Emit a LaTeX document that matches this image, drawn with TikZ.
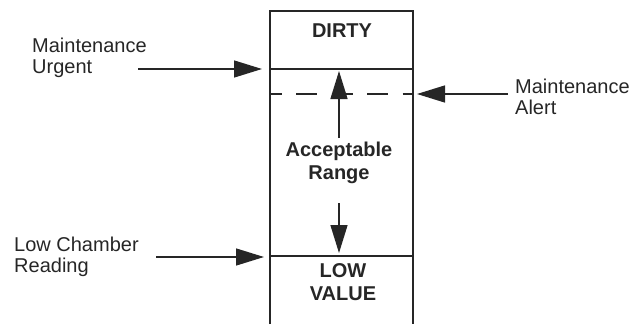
\documentclass[tikz,border=0pt]{standalone}
\usepackage{fontspec}
\setmainfont{Liberation Sans}
\usetikzlibrary{arrows.meta}
\begin{document}
\begin{tikzpicture}[x=1pt,y=-1pt,
  rule/.style={line width=1.4pt,draw=black!85},
  pointer/.style={line width=1.4pt,draw=black!85,-{Triangle[length=28pt,width=17pt]}},
  label/.style={font=\fontsize{20}{21.5}\selectfont,text=black!85,align=left,inner sep=0pt},
  zone/.style={font=\bfseries\fontsize{20}{22.5}\selectfont,text=black!85,align=center,inner sep=0pt}]
\useasboundingbox (0,0) rectangle (634,324);
% column frame, open at the bottom
\draw[rule] (270,324) -- (270,11) -- (413,11) -- (413,324);
\draw[rule] (270,69) -- (413,69);
\draw[rule] (270,256) -- (413,256);
\draw[rule,dash pattern=on 21pt off 14.5pt,dash phase=9.5pt] (270,94) -- (413,94);
% zone labels
\node[zone] (dirty) at (342,31) {DIRTY};
\node[zone] (range) at (339,163) {Acceptable\\Range};
\node[zone] (low) at (343,282) {LOW\\VALUE};
% range arrows
\coordinate (uptip) at (339,71);
\coordinate (downtip) at (339,253);
\draw[pointer] (339,138) -- (uptip);
\draw[pointer] (339,203) -- (downtip);
% side markers
\node[label,anchor=west] (urgent) at (32,58) {Maintenance\\Urgent};
\coordinate (urgtip) at (262,69);
\draw[pointer] (138,69) -- (urgtip);
\node[label,anchor=west] (alert) at (515,97) {Maintenance\\Alert};
\coordinate (alerttip) at (417,94);
\draw[pointer] (508,94) -- (alerttip);
\node[label,anchor=west] (lowread) at (14,257) {Low Chamber\\Reading};
\coordinate (lowtip) at (264,257);
\draw[pointer] (156,257) -- (lowtip);
\end{tikzpicture}
\end{document}
